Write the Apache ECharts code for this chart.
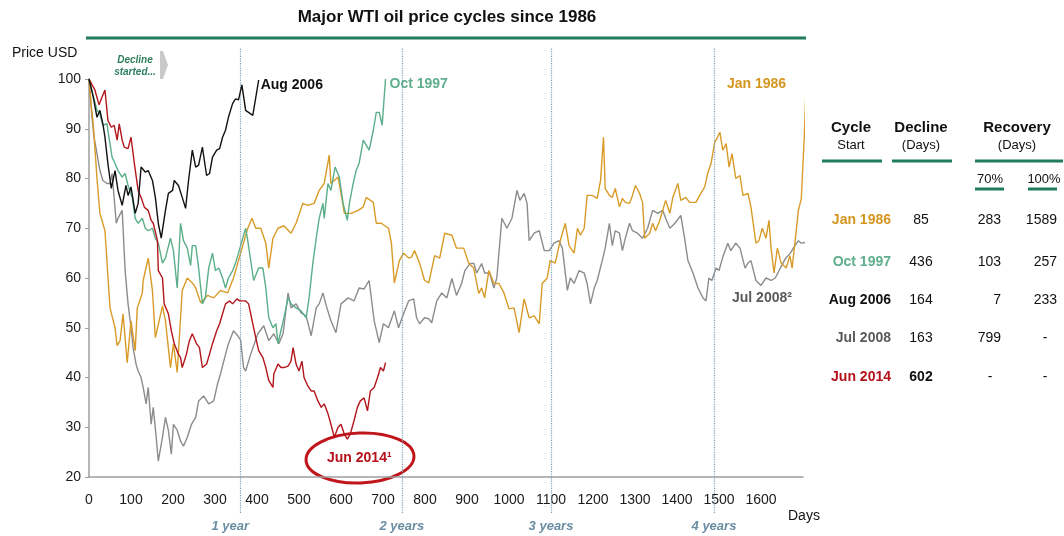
<!DOCTYPE html>
<html>
<head>
<meta charset="utf-8">
<script src="https://cdn.jsdelivr.net/npm/echarts@6/dist/echarts.min.js"></script>
<style>
	html, body { margin: 0; padding: 0; background: #fff; }
	#chart { width: 1064px; height: 536px; }
</style>
</head>
<body>
<div id="chart"></div>
<script>
	// price paths, [days since cycle start, price rebased to 100]
	let jan1986 = [[0,100],[5,95],[10,91],[15,85],[19,80],[26,73],[38,69.5],[50,54],[62,50],[67,46.4],[74,47.4],[81,52.8],[91,43],[100,51.4],[110,45.4],[115,54],[127,57],[129,59.5],[141,64],[151,57.5],[158,48],[175,54.4],[182,51.4],[194,42],[201,46.8],[210,41],[222,57.5],[234,60],[246,59],[254,58],[266,55],[282,56.5],[297,56],[313,57.5],[330,57],[344,60],[361,65],[378,70],[388,72],[397,70],[409,70],[421,67],[428,62],[438,68],[450,70],[464,70.5],[481,69],[493,71],[509,75],[521,74.6],[536,75],[548,77.6],[560,79],[572,84.7],[576,79],[584,79.6],[593,80.3],[600,77],[608,73],[624,73],[641,73.6],[653,74.3],[660,76.2],[677,75.2],[684,71],[696,71],[713,70],[720,67],[727,59],[739,63.5],[749,65],[761,64],[768,64.2],[775,65.5],[787,63],[799,59.5],[809,59],[823,64.5],[835,64],[847,69],[864,68.6],[875,66],[892,66],[904,63],[916,62],[928,56.9],[935,58],[942,56],[952,61.5],[964,58.9],[976,58.9],[988,57],[1000,53.8],[1012,54],[1024,49],[1036,55.8],[1048,52],[1060,52.4],[1072,50.8],[1079,58.9],[1091,60],[1098,63.5],[1110,63],[1122,67.5],[1134,71],[1143,66.5],[1155,65],[1163,70],[1170,68.6],[1179,70],[1186,76.6],[1198,76.6],[1210,76],[1218,79.6],[1225,88.3],[1229,78],[1239,76.6],[1246,76.2],[1253,78],[1263,74.3],[1270,76],[1277,75.2],[1287,75],[1294,76.6],[1301,78.6],[1311,77],[1318,75.2],[1323,68],[1335,69],[1342,71],[1349,69.5],[1359,71.6],[1366,73.6],[1373,75.6],[1383,73],[1390,76.2],[1402,79],[1409,75.6],[1421,76.2],[1430,75.2],[1445,75.2],[1454,76.6],[1466,78.3],[1473,81],[1481,83],[1490,87.3],[1495,88],[1502,89.3],[1509,85.7],[1517,87],[1524,82.3],[1531,85],[1540,80],[1550,80.6],[1557,76.6],[1569,77],[1576,74.3],[1588,67],[1595,67.5],[1603,70],[1612,68],[1619,71.6],[1624,66],[1631,61],[1639,66],[1648,63],[1660,62],[1669,64.5],[1674,62],[1682,68],[1689,73.6],[1696,76],[1703,88.3],[1708,100]];

	let oct1997 = [[0,100],[19,93.7],[26,93],[33,90.7],[43,91],[45,89.7],[55,84.3],[62,83],[69,81.6],[79,80.3],[86,81],[93,78.6],[103,76.2],[110,72],[117,71],[127,72],[134,70],[141,69.5],[151,70],[158,68],[165,67],[175,63],[182,64],[194,68],[201,65.5],[210,58],[218,71],[225,67.5],[234,66],[242,62.5],[246,66.5],[254,66.5],[261,62],[270,54.8],[277,56],[285,62],[294,65],[301,61.5],[309,62],[318,60],[325,58],[332,60],[342,61.5],[349,63],[356,65],[366,68],[373,70],[378,67.5],[392,59.5],[404,62],[414,62],[421,58],[428,52],[438,50],[445,50.8],[450,46.8],[457,49.4],[464,52],[474,56],[481,54.8],[493,54],[505,53.4],[517,52],[524,56],[533,63],[541,68],[548,72],[557,75],[560,72],[569,79],[576,77.6],[586,82.3],[596,80.3],[605,75],[615,71.6],[620,75],[629,79],[636,81.6],[643,83],[653,87.7],[660,86.7],[667,85.7],[677,89.7],[684,93.3],[691,93.3],[698,90.7],[706,100]];

	let aug2006 = [[0,100],[10,96.4],[19,92.3],[26,93.7],[33,91],[38,88.3],[45,83],[53,78],[62,81.6],[69,77.6],[79,74.6],[88,78.6],[93,76.6],[100,78.3],[110,73],[117,75],[124,82.3],[134,81.3],[141,81.6],[151,79.6],[158,76.2],[165,71],[172,68],[182,73.6],[189,77],[199,77.6],[203,79.6],[213,78.6],[222,76.2],[230,74],[237,79.6],[246,85.7],[254,82.3],[261,82.7],[270,86.3],[280,80.6],[287,81],[294,84.3],[304,85.7],[311,86],[318,88.3],[325,89.7],[332,92.3],[342,95.1],[349,96],[356,95.8],[364,98.8],[373,93.7],[390,92.7],[404,99.8]];

	let jul2008 = [[0,100],[7,92.3],[12,88.3],[19,85],[26,81.6],[33,79.6],[43,79],[50,79],[55,81],[65,71],[69,72],[79,73.6],[86,61.5],[93,54.8],[100,50],[105,46],[112,42.7],[117,41.3],[124,40],[129,38],[136,34.7],[141,38],[148,30.6],[153,34],[160,28],[165,23.2],[175,28],[182,32],[189,29.4],[196,24.6],[201,30.6],[210,29.4],[218,27.2],[225,26.2],[234,28],[244,30.6],[254,32],[261,35.3],[273,36.3],[285,34.7],[297,35.3],[306,38.7],[313,40.7],[323,44],[332,46.8],[344,49.4],[354,48.4],[361,47.5],[368,42],[373,41.3],[385,44.7],[402,48.8],[416,50.4],[428,47.4],[440,48.8],[452,46.8],[462,48.8],[474,57],[481,54],[493,54.8],[505,53],[517,52.4],[529,48.4],[541,54],[548,54.8],[557,57],[565,54.4],[576,51.4],[588,49],[600,54.8],[617,56],[631,55.4],[643,58],[655,57.8],[667,59.5],[679,51.4],[691,47],[701,50.8],[713,50],[727,53.4],[737,50],[749,52.8],[761,55.4],[773,55.8],[780,52],[787,50.8],[799,52],[809,51.8],[816,51],[828,55.4],[840,57],[852,56],[864,59.9],[875,56.5],[887,58.9],[895,61.5],[907,62.9],[916,63],[923,61],[935,62.9],[942,61],[954,61],[964,58],[971,60],[983,72],[995,70],[1007,72],[1019,77.6],[1026,75.6],[1036,77],[1043,75],[1048,67.5],[1060,69],[1072,69.5],[1084,65.5],[1096,65.5],[1107,67],[1119,67.5],[1127,66],[1139,57.5],[1146,60],[1155,58.9],[1167,61.5],[1179,61],[1186,58.9],[1194,54.8],[1203,58],[1210,59.5],[1222,63.5],[1229,66],[1239,71],[1246,66.5],[1253,69.5],[1263,69],[1270,65.5],[1277,68],[1287,71],[1294,69.5],[1306,69],[1318,68],[1330,70],[1342,73.6],[1354,73],[1366,73.6],[1373,72],[1383,70],[1395,71],[1409,72.6],[1418,68],[1426,63.5],[1438,61],[1450,58],[1462,56],[1469,55.4],[1476,60],[1483,59.5],[1493,62],[1500,61.5],[1509,64.2],[1521,67],[1528,65.5],[1540,67],[1550,66],[1562,62],[1569,63],[1576,63.5],[1588,59.5],[1600,58.5],[1612,60],[1624,59.5],[1634,60],[1646,62],[1658,63.9],[1670,65],[1677,66],[1689,67.5],[1696,67],[1708,67.2]];

	let jun2014 = [[0,100],[14,97.8],[24,94.8],[31,96.4],[38,97.8],[45,91.7],[53,90.3],[60,90.7],[67,87.7],[72,91],[79,87.7],[84,86.3],[93,86],[100,88.3],[108,83],[117,77.6],[124,76.2],[132,74.2],[141,73.6],[148,71.6],[153,71],[163,67.5],[165,61.5],[175,60],[179,54.8],[189,52.8],[196,49.4],[203,46.8],[213,44.7],[218,44],[222,42],[232,44.7],[239,47.4],[246,48.8],[256,46.8],[263,46],[270,42],[280,42.7],[287,44.7],[294,46.8],[304,49.4],[311,50.8],[318,52.8],[325,54.8],[335,55.4],[342,54.8],[352,55.8],[359,55.4],[373,55.4],[380,54.8],[390,50.8],[397,48],[404,45.4],[414,44],[421,42],[428,39.4],[438,38],[440,40.7],[450,42.7],[457,42],[464,42],[474,42.3],[481,43.3],[486,46],[493,42.7],[500,41.3],[507,43.3],[512,40],[521,38.3],[529,37.3],[536,37.3],[545,35.3],[553,34],[560,34.7],[569,32.7],[576,30.6],[584,28],[593,30],[600,30.6],[608,28.6],[615,27.6],[622,28.6],[631,31.3],[639,34],[646,35.3],[655,35.9],[663,33.3],[670,37.3],[679,38],[687,40],[694,42],[701,41.3],[706,43]];

	let yearMarks = [360, 745, 1100, 1488];
	let yearLabels = ['1 year', '2 years', '3 years', '4 years'];

	// summary table
	let tableCycles = ['Jan 1986', 'Oct 1997', 'Aug 2006', 'Jul 2008', 'Jun 2014'];
	let tableDecline = ['85', '436', '164', '163', '602'];
	let tableRec70 = ['283', '103', '7', '799', '-'];
	let tableRec100 = ['1589', '257', '233', '-', '-'];

	let COLORS = {
		jan1986 : '#d99b28',
		oct1997 : '#5aae8a',
		aug2006 : '#111111',
		jul2008 : '#8c8c8c',
		jun2014 : '#b3161c',
		green : '#1f7c5c',
		years : '#6b8ea3'
	};
	let labelColors = ['#d4961f', '#5fae8d', '#111111', '#5a5a5a', '#b5121b'];
	let FONT = '"Liberation Sans", Arial, sans-serif';

	let chart = echarts.init(document.getElementById('chart'));

	let lineSeries = function(name, data, color, z){
		return {
			name: name,
			type: 'line',
			data: data,
			symbol: 'none',
			clip: false,
			z: z,
			xAxisIndex: 0,
			yAxisIndex: 0,
			lineStyle: { color: color, width: 1.4 }
		};
	};

	/*------------------------------- table graphics -------------------------------*/
	let graphics = [];
	let txt = function(x, y, text, style){
		graphics.push({
			type: 'text', x: x, y: y, silent: true,
			style: Object.assign({
				text: text, fontFamily: FONT, fontSize: 14, fill: '#111',
				align: 'center', verticalAlign: 'middle'
			}, style || {})
		});
	};
	let rule = function(x1, x2, y){
		graphics.push({
			type: 'line', silent: true,
			shape: { x1: x1, y1: y, x2: x2, y2: y },
			style: { stroke: COLORS.green, lineWidth: 3 }
		});
	};

	// title
	txt(447, 17, 'Major WTI oil price cycles since 1986', { fontSize: 17, fontWeight: 'bold' });
	rule(86, 806, 38);
	txt(12, 53, 'Price USD', { align: 'left', fontSize: 14 });
	txt(135, 60, 'Decline', { fontSize: 10, fontWeight: 'bold', fontStyle: 'italic', fill: '#2f7f5f' });
	txt(135, 72, 'started...', { fontSize: 10, fontWeight: 'bold', fontStyle: 'italic', fill: '#2f7f5f' });
	graphics.push({
		type: 'polygon', silent: true,
		shape: { points: [[160, 51], [163, 51], [168, 65], [163, 79], [160, 79]] },
		style: { fill: '#c9c9c9' }
	});
	txt(788, 516, 'Days', { align: 'left' });

	// in-plot labels
	txt(727, 84, 'Jan 1986', { align: 'left', fontWeight: 'bold', fill: labelColors[0] });
	txt(732, 298, 'Jul 2008\u00b2', { align: 'left', fontWeight: 'bold', fill: labelColors[3] });
	txt(327, 458, 'Jun 2014\u00b9', { align: 'left', fontWeight: 'bold', fill: labelColors[4] });
	graphics.push({
		type: 'ellipse', silent: true, rotation: 0.04, x: 360, y: 458,
		shape: { cx: 0, cy: 0, rx: 54, ry: 25 },
		style: { fill: 'none', stroke: '#c0151b', lineWidth: 3 }
	});

	// table header
	txt(851, 128, 'Cycle', { fontWeight: 'bold', fontSize: 15 });
	txt(851, 145, 'Start', { fontSize: 13 });
	txt(921, 128, 'Decline', { fontWeight: 'bold', fontSize: 15 });
	txt(921, 145, '(Days)', { fontSize: 13 });
	txt(1017, 128, 'Recovery', { fontWeight: 'bold', fontSize: 15 });
	txt(1017, 145, '(Days)', { fontSize: 13 });
	rule(822, 882, 161);
	rule(892, 952, 161);
	rule(975, 1063, 161);
	txt(990, 179, '70%', { fontSize: 13 });
	txt(1044, 179, '100%', { fontSize: 13 });
	rule(975, 1004, 189);
	rule(1028, 1057, 189);

	let rowY = [220, 262, 300, 338, 377];
	for(let i = 0; i < tableCycles.length; i++){
		txt(891, rowY[i], tableCycles[i], { align: 'right', fontWeight: 'bold', fill: labelColors[i] });
		txt(921, rowY[i], tableDecline[i], { fontWeight: i === 4 ? 'bold' : 'normal' });
		if(tableRec70[i] === '-'){
			txt(990, rowY[i], '-');
		} else {
			txt(1001, rowY[i], tableRec70[i], { align: 'right' });
		}
		if(tableRec100[i] === '-'){
			txt(1045, rowY[i], '-');
		} else {
			txt(1057, rowY[i], tableRec100[i], { align: 'right' });
		}
	}

	/*------------------------------- chart -------------------------------*/
	let option = {
		animation: false,
		backgroundColor: '#fff',
		textStyle: { fontFamily: FONT },
		grid: [
			{ left: 89, top: 79, width: 714, height: 398 },
			{ left: 89, top: 48, width: 714, height: 465 }
		],
		xAxis: [{
			type: 'value', gridIndex: 0, min: 0, max: 1700, interval: 100,
			axisLine: { lineStyle: { color: '#9e9e9e', width: 1.5 } },
			axisTick: { show: false },
			splitLine: { show: false },
			axisLabel: {
				color: '#1a1a1a', fontSize: 14, margin: 16,
				formatter: function(v){ return v <= 1600 ? v : ''; }
			}
		}, {
			type: 'value', gridIndex: 1, min: 0, max: 1700, show: false
		}],
		yAxis: [{
			type: 'value', gridIndex: 0, min: 20, max: 100, interval: 10,
			axisLine: { show: true, lineStyle: { color: '#9e9e9e', width: 1.5 } },
			axisTick: { show: true, length: 4, lineStyle: { color: '#9e9e9e' } },
			splitLine: { show: false },
			axisLabel: { color: '#1a1a1a', fontSize: 14, margin: 8 }
		}, {
			type: 'value', gridIndex: 1, min: 0, max: 1, show: false
		}],
		series: [
			{
				type: 'line', xAxisIndex: 1, yAxisIndex: 1, data: [], silent: true,
				markLine: {
					silent: true, symbol: ['none', 'none'],
					lineStyle: { color: '#7f9fb5', type: 'dotted', width: 1.2 },
					label: {
						position: 'start', distance: 7, color: COLORS.years,
						fontSize: 13, fontWeight: 'bold', fontStyle: 'italic',
						formatter: function(p){ return yearLabels[p.dataIndex]; }
					},
					data: yearMarks.map(function(v, i){
						return { xAxis: v, label: i === 0 ? { offset: [-10, 0] } : {} };
					})
				}
			},
			lineSeries('Jul 2008', jul2008, COLORS.jul2008, 2),
			lineSeries('Jan 1986', jan1986, COLORS.jan1986, 3),
			Object.assign(lineSeries('Oct 1997', oct1997, COLORS.oct1997, 4), {
				endLabel: {
					show: true, formatter: 'Oct 1997', distance: 4, offset: [0, 5],
					color: labelColors[1], fontWeight: 'bold', fontSize: 14
				}
			}),
			lineSeries('Jun 2014', jun2014, COLORS.jun2014, 5),
			Object.assign(lineSeries('Aug 2006', aug2006, COLORS.aug2006, 6), {
				endLabel: {
					show: true, formatter: 'Aug 2006', distance: 2, offset: [0, 5],
					color: labelColors[2], fontWeight: 'bold', fontSize: 14
				}
			})
		],
		graphic: graphics
	};

	chart.setOption(option);
</script>
</body>
</html>
